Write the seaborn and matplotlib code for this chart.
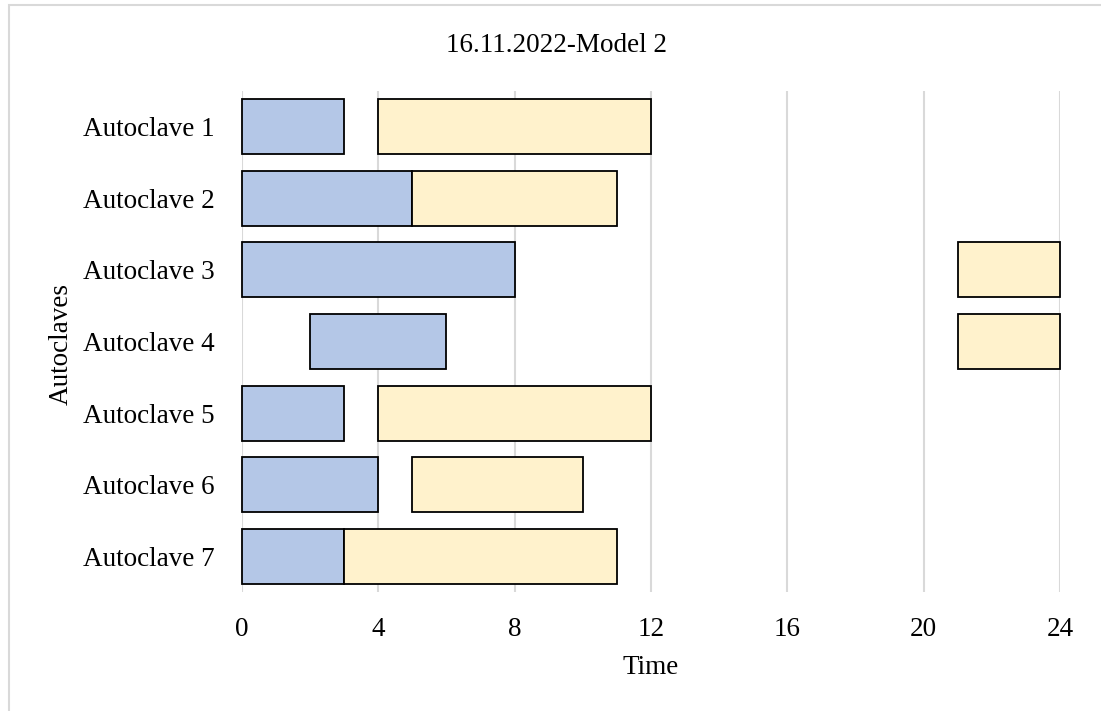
import numpy as np
import pandas as pd
import seaborn as sns
import matplotlib
matplotlib.use("Agg")
import matplotlib.pyplot as plt
from matplotlib.patches import Rectangle

# Schedule per autoclave: first (blue) and second (yellow) job, start/end times
autoclaves = ["Autoclave 1", "Autoclave 2", "Autoclave 3", "Autoclave 4",
              "Autoclave 5", "Autoclave 6", "Autoclave 7"]
job1_start = [0, 0, 0, 2, 0, 0, 0]
job1_end = [3, 5, 8, 6, 3, 4, 3]
job2_start = [4, 5, 21, 21, 4, 5, 3]
job2_end = [12, 11, 24, 24, 12, 10, 11]
x_ticks = [0, 4, 8, 12, 16, 20, 24]

BLUE = "#B4C7E7"
YELLOW = "#FFF2CC"
GRID = "#D9D9D9"
FS = 19.5

sns.set_theme(style="white")
plt.rcParams["font.family"] = ["Liberation Serif", "DejaVu Serif"]
plt.rcParams["font.size"] = FS
for key in ("text.color", "axes.labelcolor", "xtick.color", "ytick.color"):
    plt.rcParams[key] = "black"

fig = plt.figure(figsize=(11.01, 7.11), dpi=100)
ax = fig.add_axes([242 / 1101, 1 - 592 / 711, (1060 - 242) / 1101, (592 - 91) / 711])

def draw_jobs(starts, ends, color):
    df = pd.DataFrame({"autoclave": autoclaves,
                       "duration": np.array(ends) - np.array(starts)})
    before = len(ax.patches)
    sns.barplot(data=df, x="duration", y="autoclave", orient="y", color=color,
                width=0.77, errorbar=None, edgecolor="black", linewidth=1.3,
                saturation=1, ax=ax, zorder=3)
    for patch, s in zip(ax.patches[before:], starts):
        patch.set_x(s)
        patch.set_clip_on(False)

draw_jobs(job1_start, job1_end, BLUE)
draw_jobs(job2_start, job2_end, YELLOW)

ax.set_xlim(0, 24)
ax.set_ylim(len(autoclaves) - 0.5, -0.5)
ax.set_xticks(x_ticks)
ax.set_xticklabels([str(t) for t in x_ticks])
ax.grid(axis="x", color=GRID, linewidth=1.5, zorder=0)
ax.grid(axis="y", visible=False)
ax.set_axisbelow(True)
for sp in ax.spines.values():
    sp.set_visible(False)
ax.tick_params(axis="both", length=0, labelsize=FS, labelcolor="black")
ax.tick_params(axis="x", pad=18)
ax.tick_params(axis="y", pad=19.5)

ax.set_xlabel("Time", fontsize=FS)
ax.set_ylabel("Autoclaves", fontsize=FS)
ax.xaxis.set_label_coords((651 - 242) / (1060 - 242), -(655 - 592) / (592 - 91))
ax.yaxis.set_label_coords(-(242 - 74) / (1060 - 242), (592 - 344) / (592 - 91))

fig.text(556 / 1101, 1 - 45 / 711, "16.11.2022-Model 2", ha="center", va="center",
         fontsize=FS)

# light chart-area frame
fig.patches.append(Rectangle((8.5 / 1101, -0.1), 1.2, 1.1 - 5 / 711,
                             transform=fig.transFigure, fill=False,
                             edgecolor=GRID, linewidth=1.5))

fig.savefig("out.png", dpi=100, facecolor="white")
